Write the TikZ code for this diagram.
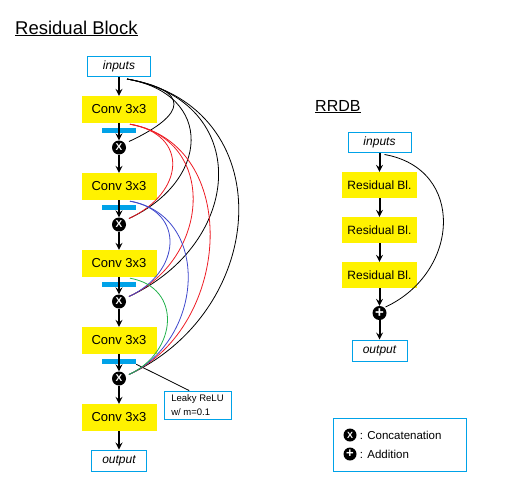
\documentclass[tikz,border=0pt]{standalone}
\usepackage{fontspec}
\setmainfont{Liberation Sans}
\usetikzlibrary{positioning, arrows}
\definecolor{boxyellow}{RGB}{255,242,0}
\definecolor{lineblue}{RGB}{0,162,232}
\definecolor{skipred}{RGB}{237,28,36}
\definecolor{skipblue}{RGB}{63,72,204}
\definecolor{skipgreen}{RGB}{34,177,76}
\tikzset{
    node distance=77pt, % conv to conv, overridden where needed
    conv/.style={ % yellow layer boxes
        fill=boxyellow,
        minimum width=75pt, minimum height=27pt, inner sep=0pt,
        font=\fontsize{13}{15}\selectfont
    },
    io/.style={ % inputs / output boxes
        draw=lineblue, line width=1pt, fill=white,
        minimum width=63pt, minimum height=20pt, inner sep=0pt,
        font=\fontsize{12}{14}\selectfont\itshape
    },
    act/.style={fill=lineblue, minimum width=34pt, minimum height=5pt, inner sep=0pt}, % activation bar
    dot/.style={ % concat / add circles
        circle, fill=black, minimum size=14pt, inner sep=0pt,
        text=white, font=\fontsize{10}{10}\selectfont\bfseries
    },
    flow/.style={->, >=stealth, line width=2pt},
    every edge/.style={ % skip connections
        draw,
        line width=0.8pt,
        out=-10, in=25
    },
}

\begin{document}
\begin{tikzpicture}[x=1pt, y=1pt]
    \useasboundingbox (0,0) rectangle (519,-493);
    % titles
    \node[anchor=base west, inner sep=0pt, font=\fontsize{18.5}{20}\selectfont] (ttlres) at (15,-34) {\underline{Residual Block}};
    \node[anchor=base west, inner sep=0pt, font=\fontsize{16}{18}\selectfont] (ttlrrdb) at (315,-111) {\underline{RRDB}};

    % residual block
    \node[io]                                          (rin)   at (119,-66.5) {inputs};
    \node[conv, node distance=43pt, below of=rin]      (conv1) {Conv 3x3};
    \node[act,  node distance=21pt, below of=conv1]    (act1)  {};
    \node[dot,  node distance=38pt, below of=conv1]    (cat1)  {X};
    \node[conv, below of=conv1]                        (conv2) {Conv 3x3};
    \node[act,  node distance=21pt, below of=conv2]    (act2)  {};
    \node[dot,  node distance=38pt, below of=conv2]    (cat2)  {X};
    \node[conv, below of=conv2]                        (conv3) {Conv 3x3};
    \node[act,  node distance=21pt, below of=conv3]    (act3)  {};
    \node[dot,  node distance=38pt, below of=conv3]    (cat3)  {X};
    \node[conv, below of=conv3]                        (conv4) {Conv 3x3};
    \node[act,  node distance=21pt, below of=conv4]    (act4)  {};
    \node[dot,  node distance=38pt, below of=conv4]    (cat4)  {X};
    \node[conv, below of=conv4]                        (conv5) {Conv 3x3};
    \node[io, minimum width=55pt, minimum height=21pt, node distance=43pt, below of=conv5] (rout) {output};
    \node[draw=lineblue, line width=1pt, minimum width=67pt, minimum height=28pt, inner sep=0pt,
          align=left, font=\fontsize{9.5}{14}\selectfont] (relu) at (197.5,-405) {Leaky ReLU\\w/ m=0.1};

    \draw[flow] (rin) -- (conv1);
    \draw[flow] (conv1) -- (cat1);
    \draw[flow] (cat1) -- (conv2);
    \draw[flow] (conv2) -- (cat2);
    \draw[flow] (cat2) -- (conv3);
    \draw[flow] (conv3) -- (cat3);
    \draw[flow] (cat3) -- (conv4);
    \draw[flow] (conv4) -- (cat4);
    \draw[flow] (cat4) -- (conv5);
    \draw[flow] (conv5) -- (rout);
    \draw[line width=0.8pt] (act4.south east) -- (relu.120);

    % dense skip connections
    \coordinate (s0) at ([shift={(8,-2)}]rin.south);
    \coordinate (s1) at ([shift={(11,-1)}]conv1.south);
    \coordinate (s2) at ([shift={(11,-1)}]conv2.south);
    \coordinate (s3) at ([shift={(11,-1)}]conv3.south);
    \coordinate (t1) at ([shift={(10,6)}]cat1.center);
    \coordinate (t2) at ([shift={(10,6)}]cat2.center);
    \coordinate (t3) at ([shift={(10,5)}]cat3.center);
    \coordinate (t4) at ([shift={(10,4)}]cat4.center);
    \draw   (s0) edge[looseness=2.65]    (t1)
            (s0) edge[looseness=1.63]    (t2)
            (s0) edge[looseness=1.5]     (t3)
            (s0) edge[looseness=1.35]    (t4)
    ;
    \draw[skipred]
            (s1) edge[looseness=1.65]    (t2)
            (s1) edge[looseness=1.33]    (t3)
            (s1) edge[looseness=1.16]    (t4)
    ;
    \draw[skipblue]
            (s2) edge[looseness=1.53]    (t3)
            (s2) edge[looseness=1.22]    (t4)
    ;
    \draw[skipgreen]
            (s3) edge[looseness=1.42]    (t4)
    ;

    % RRDB
    \node[io]                                          (din)   at (379.5,-142) {inputs};
    \node[conv, minimum height=26pt, font=\fontsize{12}{14}\selectfont, node distance=43pt, below of=din] (rb1) {Residual Bl.};
    \node[conv, minimum height=26pt, font=\fontsize{12}{14}\selectfont, node distance=45pt, below of=rb1] (rb2) {Residual Bl.};
    \node[conv, minimum height=26pt, font=\fontsize{12}{14}\selectfont, node distance=45pt, below of=rb2] (rb3) {Residual Bl.};
    \node[dot, font=\fontsize{15}{15}\selectfont\bfseries, node distance=38pt, below of=rb3] (add) {+};
    \node[io, minimum width=55pt, minimum height=21pt, node distance=37.5pt, below of=add] (dout) {output};

    \draw[flow] (din) -- (rb1);
    \draw[flow] (rb1) -- (rb2);
    \draw[flow] (rb2) -- (rb3);
    \draw[flow] (rb3) -- (add);
    \draw[flow] (add) -- (dout);
    \coordinate (ds) at ([shift={(5,-2)}]din.south);
    \coordinate (dt) at ([shift={(6,6)}]add.center);
    \draw (ds) edge[looseness=1.38] (dt);

    % legend
    \node[draw=lineblue, line width=1pt, minimum width=133pt, minimum height=53pt] (lg) at (399.5,-444.5) {};
    \node[dot, minimum size=13pt, font=\fontsize{9}{9}\selectfont\bfseries] (lgcat) at (350,-435) {X};
    \node[dot, minimum size=13pt, font=\fontsize{13}{13}\selectfont\bfseries, node distance=19pt, below of=lgcat] (lgadd) {+};
    \node[right=3pt of lgcat, inner sep=0pt, font=\fontsize{11.5}{13}\selectfont] (lgcattxt) {: Concatenation};
    \node[right=3pt of lgadd, inner sep=0pt, font=\fontsize{11.5}{13}\selectfont] (lgaddtxt) {: Addition};
\end{tikzpicture}
\end{document}
